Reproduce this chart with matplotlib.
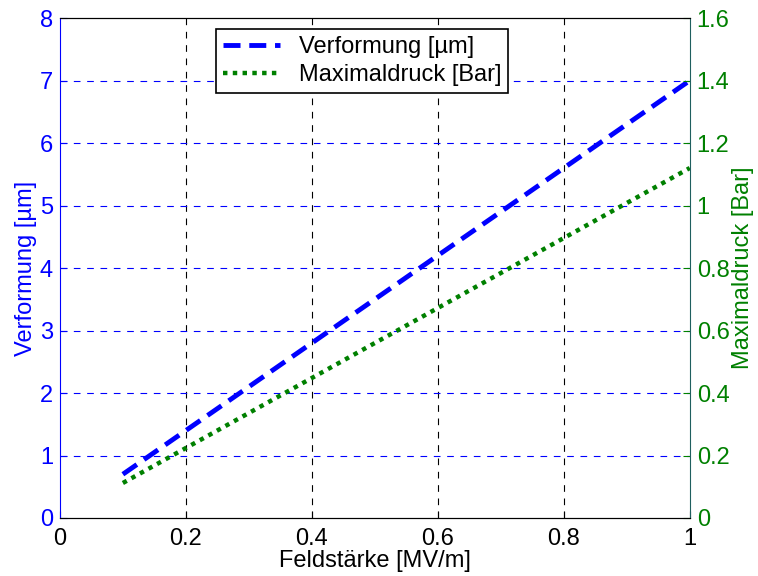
import matplotlib.pyplot as plt

# field strength [MV/m] and the two responses
feld = [0.1, 1.0]
verformung = [0.7, 7.0]
maximaldruck = [0.112, 1.12]

x_ticks = [0, 0.2, 0.4, 0.6, 0.8, 1]
left_ticks = [0, 1, 2, 3, 4, 5, 6, 7, 8]
right_ticks = [0, 0.2, 0.4, 0.6, 0.8, 1, 1.2, 1.4, 1.6]
right_labels = ["0", "0.2", "0.4", "0.6", "0.8", "1", "1.2", "1.4", "1.6"]

plt.rcParams["font.family"] = ["Liberation Sans", "DejaVu Sans"]
fs = 17
green = "#008000"

fig = plt.figure(figsize=(7.58, 5.76), dpi=100)
ax = fig.add_axes([0.079, 0.1007, 0.831, 0.868])
ax2 = ax.twinx()

l1, = ax.plot(feld, verformung, color="blue", linestyle=(0, (3.5, 1.8)), linewidth=3.5)
l2, = ax2.plot(feld, maximaldruck, color=green, linestyle=(0, (1, 1.2)), linewidth=3.2)

ax.set_xlim(0, 1)
ax.set_ylim(0, 8)
ax2.set_ylim(0, 1.6)
ax.set_xticks(x_ticks)
ax.set_xticklabels(["0", "0.2", "0.4", "0.6", "0.8", "1"])
ax.set_yticks(left_ticks)
ax2.set_yticks(right_ticks)
ax2.set_yticklabels(right_labels)

ax.tick_params(axis="x", direction="in", labelsize=fs, colors="black", length=5, pad=7)
ax.tick_params(axis="y", direction="in", labelsize=fs, colors="blue", length=5, pad=5)
ax2.tick_params(axis="y", direction="in", labelsize=fs, colors=green, length=5, pad=5)

# grid: black dashed verticals, blue dashed horizontals
for xv in x_ticks[1:-1]:
    ax.axvline(xv, color="black", linestyle=(0, (6, 6)), linewidth=0.8, zorder=0)
for yv in left_ticks[1:-1]:
    ax.axhline(yv, color="blue", linestyle=(0, (6, 6)), linewidth=0.8, zorder=0)

ax.spines["left"].set_color("blue")
ax.spines["right"].set_visible(False)
ax2.spines["left"].set_visible(False)
ax2.spines["right"].set_color("#1f5f5f")
ax2.spines["top"].set_color("black")
ax2.spines["bottom"].set_color("black")

ax.set_xlabel("Feldstärke [MV/m]", fontsize=fs, labelpad=0)
ax.set_ylabel("Verformung [µm]", fontsize=fs, color="blue", labelpad=2)
ax2.set_ylabel("Maximaldruck [Bar]", fontsize=fs, color=green, labelpad=2)

leg = ax2.legend([l1, l2], ["Verformung [µm]", "Maximaldruck [Bar]"],
                 loc="upper center", bbox_to_anchor=(0.48, 0.978), fontsize=fs,
                 fancybox=False, framealpha=1, edgecolor="black",
                 handlelength=2.4, borderpad=0.3, labelspacing=0.25,
                 handletextpad=0.8, borderaxespad=0)
leg.get_frame().set_linewidth(1.2)

fig.savefig("out.png", dpi=100)
